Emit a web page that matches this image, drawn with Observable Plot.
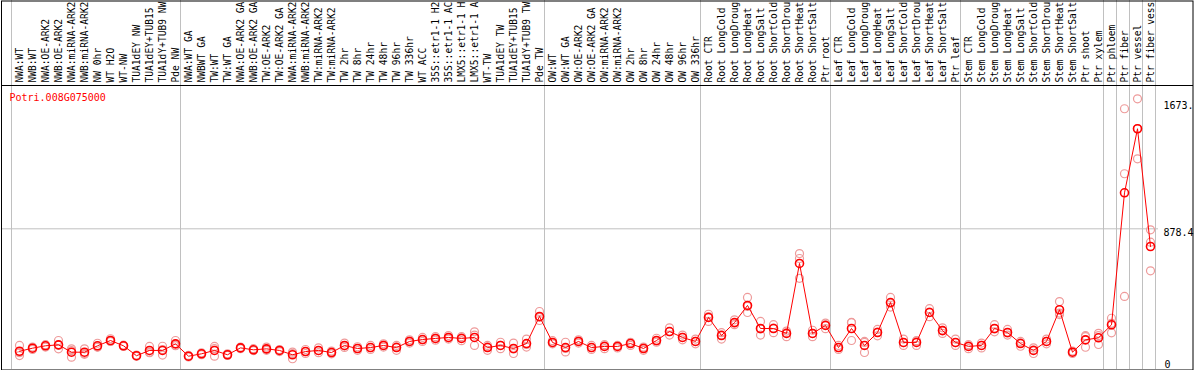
<!DOCTYPE html>
<html>
<head>
<meta charset="utf-8">
<script src="https://cdn.jsdelivr.net/npm/d3@7"></script>
<script src="https://cdn.jsdelivr.net/npm/@observablehq/plot@0.6"></script>
<style>
  html, body { margin: 0; padding: 0; background: white; }
  #chart svg { display: block; }
</style>
</head>
<body>
<div id="chart"></div>
<script>
const title = "Potri.008G075000";

// sample labels as shown (the chart shows at most 14 characters)
const samples = [
  "NWA:WT","NWB:WT","NWA:OE-ARK2","NWB:OE-ARK2","NWA:miRNA-ARK2","NWB:miRNA-ARK2","NW 0hr","WT H2O","WT-NW","TUA1dEY NW","TUA1dEY+TUB15","TUA1dY+TUB9 NW","Pde NW",
  "NWA:WT GA","NWBWT GA","TW:WT","TW:WT GA","NWA:OE-ARK2 GA","NWB:OE-ARK2 GA","TW:OE-ARK2","TW:OE-ARK2 GA","NWA:miRNA-ARK2","NWB:miRNA-ARK2","TW:miRNA-ARK2","TW:miRNA-ARK2",
  "TW 2hr","TW 8hr","TW 24hr","TW 48hr","TW 96hr","TW 336hr","WT ACC","35S::etr1-1 H2","35S::etr1-1 AC","LMX5::etr1-1 H","LMX5::etr1-1 A","WT-TW","TUA1dEY TW","TUA1dEY+TUB15","TUA1dY+TUB9 TW","Pde TW",
  "OW:WT","OW:WT GA","OW:OE-ARK2","OW:OE-ARK2 GA","OW:miRNA-ARK2","OW:miRNA-ARK2","OW 2hr","OW 8hr","OW 24hr","OW 48hr","OW 96hr","OW 336hr",
  "Root CTR","Root LongCold","Root LongDroug","Root LongHeat","Root LongSalt","Root ShortCold","Root ShortDrou","Root ShortHeat","Root ShortSalt","Ptr root",
  "Leaf CTR","Leaf LongCold","Leaf LongDroug","Leaf LongHeat","Leaf LongSalt","Leaf ShortCold","Leaf ShortDrou","Leaf ShortHeat","Leaf ShortSalt","Ptr leaf",
  "Stem CTR","Stem LongCold","Stem LongDroug","Stem LongHeat","Stem LongSalt","Stem ShortCold","Stem ShortDrou","Stem ShortHeat","Stem ShortSalt","Ptr shoot","Ptr xylem",
  "Ptr phloem","Ptr fiber","Ptr vessel","Ptr fiber vess"
];

const means = [
  114,133,148,154,108,108,148,181,148,86,119,119,160,
  83,98,119,92,135,123,129,119,92,112,119,106,150,131,137,150,137,175,187,194,200,194,200,137,150,131,162,331,
  169,137,175,137,144,144,162,131,181,237,200,175,
  325,212,293,400,256,256,225,662,225,275,
  137,256,150,231,418,169,169,356,243,169,
  144,150,256,231,162,119,175,373,108,185,198,
  279,1103,1503,768
];
const rep1 = [
  150,140,155,181,129,129,164,192,152,90,144,145,181,
  88,104,144,98,140,130,140,125,100,125,135,115,165,142,150,160,150,185,200,205,212,205,215,150,170,165,190,362,
  180,170,185,150,155,150,170,140,195,260,215,190,
  345,230,310,450,300,280,240,724,245,290,
  150,293,175,250,450,190,180,380,260,190,
  155,165,280,250,175,135,190,424,115,205,226,
  320,1628,1690,872
];
const rep2 = [
  87,125,140,129,77,100,140,175,144,82,108,125,150,
  78,92,83,88,130,118,120,112,67,100,105,98,138,120,125,140,120,165,175,183,190,180,150,120,130,100,140,306,
  160,110,165,125,130,135,150,120,170,215,185,160,
  300,190,280,356,215,230,205,693,205,255,
  125,181,106,210,390,150,150,330,225,150,
  130,135,235,215,145,100,160,343,100,139,156,
  229,1222,1315,795
];
const rep3 = [
  105,134,150,152,118,95,140,176,148,86,105,90,149,
  83,98,130,90,135,121,127,120,109,111,117,105,147,131,136,150,141,175,186,194,198,197,235,141,150,128,156,325,
  167,131,175,136,147,147,166,133,178,236,200,175,
  330,216,289,394,253,258,230,569,225,280,
  136,294,169,233,414,167,177,358,244,167,
  147,150,253,228,166,122,175,352,109,211,212,
  288,456,1504,616
];
const yTicks = [0, 878.4, 1673];
const yTickLabels = ["0", "878.4", "1673."];
const groupStarts = [0, 13, 41, 53, 63, 73, 84, 85, 86, 87, 88];

const rows = samples.map((s, i) => ({i, label: s, mean: means[i]}));
const reps = [];
samples.forEach((s, i) => {
  [rep1[i], rep2[i], rep3[i]].forEach(v => reps.push({i, v}));
});

const font = "DejaVu Sans Mono";

const chart = Plot.plot({
  width: 1194,
  height: 370,
  marginTop: 85,
  marginBottom: 1,
  marginLeft: 1,
  marginRight: 36,
  style: {fontFamily: font, fontSize: "10px", background: "white", color: "black"},
  x: {type: "linear", domain: [-18 / 13, 1139 / 13], axis: null},
  y: {domain: [0, 1773], axis: null},
  marks: [
    // vertical group separators (span the label area too)
    Plot.ruleX(groupStarts, {x: d => d - 8 / 13, stroke: "#c0c0c0", strokeWidth: 1, insetTop: -85}),
    // horizontal gridline at middle tick
    Plot.ruleY([yTicks[1]], {stroke: "#c0c0c0", strokeWidth: 1}),
    // separator between labels and plot
    Plot.ruleY([1773], {stroke: "black", strokeWidth: 1, insetRight: -35}),
    // outer border
    Plot.frame({stroke: "black", strokeWidth: 1, insetTop: -84.5, insetRight: -34.5, insetBottom: -0.5}),
    // sample labels, rotated
    Plot.text(rows, {
      x: "i", text: "label", frameAnchor: "top", rotate: -90,
      textAnchor: "start", lineAnchor: "middle", dy: -3, fill: "black",
      fontFamily: font, fontSize: 9.6
    }),
    // replicate points
    Plot.dot(reps, {x: "i", y: "v", r: 4, stroke: "#ee9a9a", strokeWidth: 1.2, fill: "none"}),
    // mean line
    Plot.line(rows, {x: "i", y: "mean", stroke: "#ff0000", strokeWidth: 1}),
    // mean points
    Plot.dot(rows, {x: "i", y: "mean", r: 4, stroke: "#ff0000", strokeWidth: 1.6, fill: "none"}),
    // title
    Plot.text([title], {frameAnchor: "top-left", dx: 8, dy: 8, lineAnchor: "top", textAnchor: "start", fill: "#ff0000", fontFamily: font, fontSize: 10}),
    // right axis labels
    Plot.text([1, 2], {
      y: k => yTicks[k], text: k => yTickLabels[k], frameAnchor: "right",
      dx: 5, textAnchor: "start", lineAnchor: "top", fill: "black", fontFamily: font, fontSize: 10
    }),
    Plot.text([0], {
      y: k => yTicks[k], text: k => yTickLabels[k], frameAnchor: "right",
      dx: 6, dy: -2, textAnchor: "start", lineAnchor: "bottom", fill: "black", fontFamily: font, fontSize: 10
    })
  ]
});
document.getElementById("chart").appendChild(chart);
</script>
</body>
</html>
